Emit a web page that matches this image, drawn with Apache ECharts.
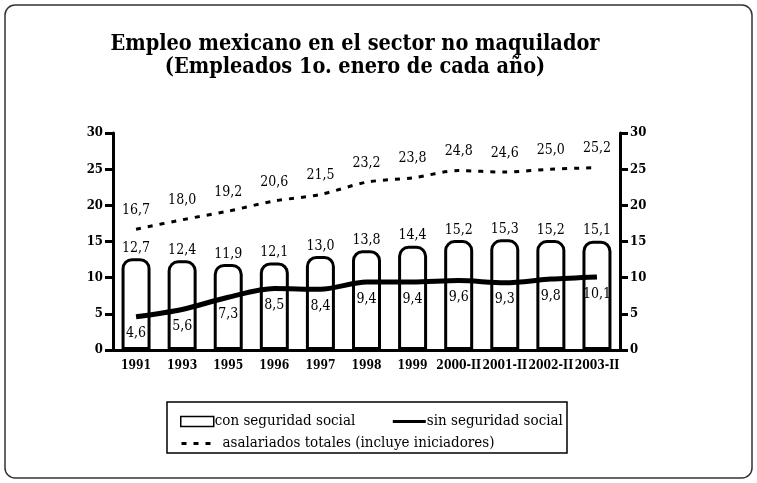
<!DOCTYPE html>
<html><head><meta charset="utf-8">
<script src="https://cdn.jsdelivr.net/npm/echarts@6/dist/echarts.min.js"></script>
<style>html,body{margin:0;padding:0;background:#fff}#c{width:757px;height:483px}</style>
</head><body><div id="c"></div>
<script>
const categories = ['1991','1993','1995','1996','1997','1998','1999','2000-II','2001-II','2002-II','2003-II'];
const conSeguridad = [12.7,12.4,11.9,12.1,13.0,13.8,14.4,15.2,15.3,15.2,15.1];
const sinSeguridad = [4.6,5.6,7.3,8.5,8.4,9.4,9.4,9.6,9.3,9.8,10.1];
const asalariados = [16.7,18.0,19.2,20.6,21.5,23.2,23.8,24.8,24.6,25.0,25.2];
const yTicks = [0,5,10,15,20,25,30];

const FONT = 'DejaVu Serif Condensed';
const fmt = p => p.value.toFixed(1).replace('.', ',');
const chart = echarts.init(document.getElementById('c'), null, {renderer:'canvas'});
const yAxisBase = (pos) => ({
  type:'value', position:pos, min:yTicks[0], max:yTicks[yTicks.length-1], interval:5,
  axisLine:{show:true, lineStyle:{color:'#000', width:3}},
  axisTick:{show:true, length:8, lineStyle:{color:'#000', width:3}},
  axisLabel:{color:'#000', fontFamily:FONT, fontSize:13, fontWeight:'bold', margin:10},
  splitLine:{show:false}
});
chart.setOption({
  animation:false,
  backgroundColor:'#fff',
  title:{
    text:'Empleo mexicano en el sector no maquilador\n(Empleados 1o. enero de cada año)',
    left:350, textAlign:'center', top:28,
    textStyle:{fontFamily:'DejaVu Serif Condensed', fontWeight:'bold', fontSize:21.5, lineHeight:23, color:'#000'}
  },
  graphic:[
    {type:'rect', shape:{x:5, y:5, width:747, height:473, r:10}, style:{fill:null, stroke:'#333', lineWidth:1.5}},
    {type:'rect', shape:{x:167, y:402, width:400, height:51}, style:{fill:null, stroke:'#000', lineWidth:1.5}}
  ],
  legend:[
    {data:[{name:'con seguridad social', icon:'rect', itemStyle:{color:'#fff', borderColor:'#000', borderWidth:1.5}},
           {name:'sin seguridad social', itemStyle:{opacity:0}, lineStyle:{width:3}}],
     left:175, top:409, itemGap:36, itemWidth:33, itemHeight:10,
     textStyle:{fontFamily:FONT, fontSize:15, color:'#000', padding:[0,0,0,-4]}},
    {data:[{name:'asalariados totales (incluye iniciadores)', itemStyle:{opacity:0}, lineStyle:{width:3, type:[5,7]}}],
     left:175, top:431, itemWidth:32, itemHeight:10, itemGap:8,
     textStyle:{fontFamily:FONT, fontSize:15, color:'#000', padding:[0,0,0,4]}}
  ],
  grid:{left:113, right:137, top:133, bottom:133},
  xAxis:{type:'category', data:categories,
    axisLine:{lineStyle:{color:'#000', width:3}}, axisTick:{show:false},
    axisLabel:{color:'#000', fontFamily:FONT, fontSize:12, fontWeight:'bold', margin:10, interval:0}},
  yAxis:[yAxisBase('left'), yAxisBase('right')],
  series:[
    {name:'con seguridad social', type:'bar', data:conSeguridad, barWidth:29,
     itemStyle:{color:'#fff', borderColor:'#000', borderWidth:3, borderRadius:[9,9,0,0]},
     label:{show:true, position:'top', distance:3, formatter:fmt, fontFamily:FONT, fontSize:14, color:'#000'}},
    {name:'sin seguridad social', type:'line', data:sinSeguridad, smooth:0.3, symbol:'circle', symbolSize:0.01, showSymbol:true,
     lineStyle:{color:'#000', width:5}, itemStyle:{color:'#000'},
     label:{show:true, position:'bottom', distance:10, formatter:fmt, fontFamily:FONT, fontSize:14, color:'#000'}},
    {name:'asalariados totales (incluye iniciadores)', type:'line', data:asalariados, smooth:0.3, symbol:'circle', symbolSize:0.01, showSymbol:true,
     lineStyle:{color:'#000', width:3, type:[5,7]}, itemStyle:{color:'#000'},
     label:{show:true, position:'top', distance:12, formatter:fmt, fontFamily:FONT, fontSize:14, color:'#000'}}
  ]
});
</script></body></html>
